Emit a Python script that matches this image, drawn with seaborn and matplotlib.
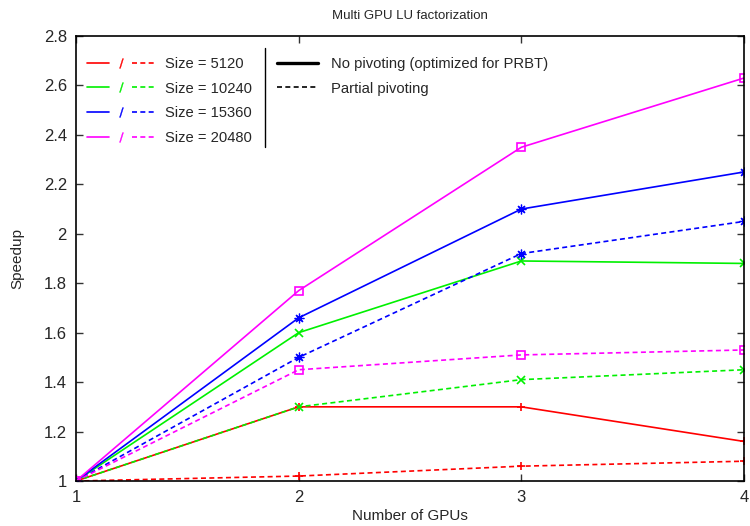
import matplotlib
matplotlib.use('Agg')
import matplotlib.pyplot as plt
from matplotlib.lines import Line2D
from matplotlib.legend_handler import HandlerTuple
import pandas as pd
import seaborn as sns

# data
gpus = [1, 2, 3, 4]
sizes = ['5120', '10240', '15360', '20480']
nopiv_5120 = [1.0, 1.30, 1.30, 1.16]
nopiv_10240 = [1.0, 1.60, 1.89, 1.88]
nopiv_15360 = [1.0, 1.66, 2.10, 2.25]
nopiv_20480 = [1.0, 1.77, 2.35, 2.63]
pp_5120 = [1.0, 1.02, 1.06, 1.08]
pp_10240 = [1.0, 1.30, 1.41, 1.45]
pp_15360 = [1.0, 1.50, 1.92, 2.05]
pp_20480 = [1.0, 1.45, 1.51, 1.53]

colors = ['#ff0000', '#00f000', '#0000ff', '#ff00ff']
markers = ['+', 'x', (8, 2, 0), 's']

sns.set_style('ticks')
plt.rcParams['font.family'] = ['Liberation Sans', 'DejaVu Sans']

nopiv = [nopiv_5120, nopiv_10240, nopiv_15360, nopiv_20480]
pp = [pp_5120, pp_10240, pp_15360, pp_20480]
rows = []
for s, a, b in zip(sizes, nopiv, pp):
    for g, va, vb in zip(gpus, a, b):
        rows.append({'gpus': g, 'size': s, 'method': 'nopiv', 'speedup': va})
        rows.append({'gpus': g, 'size': s, 'method': 'pp', 'speedup': vb})
df = pd.DataFrame(rows)

fig = plt.figure(figsize=(7.5, 5.26), dpi=100)
ax = fig.add_axes([76/750, 1 - 481/526, 668/750, 445/526])

for i, s in enumerate(sizes):
    for method, ls in [('nopiv', '-'), ('pp', (0, (3, 2)))]:
        d = df[(df['size'] == s) & (df['method'] == method)]
        sns.lineplot(data=d, x='gpus', y='speedup', ax=ax, color=colors[i],
                     linestyle=ls, lw=1.2, marker=markers[i],
                     markersize=7 if i == 2 else 6,
                     markerfacecolor='none' if markers[i] == 's' else colors[i],
                     markeredgecolor=colors[i],
                     markeredgewidth=0.9 if i == 2 else 1.2,
                     legend=False)

ax.set_xlim(1, 4)
ax.set_ylim(1, 2.8)
ax.set_xticks(gpus)
yt = [1, 1.2, 1.4, 1.6, 1.8, 2, 2.2, 2.4, 2.6, 2.8]
ax.set_yticks(yt)
ax.set_yticklabels(['%g' % v for v in yt])
ax.tick_params(direction='in', length=5, width=1, labelsize=12, pad=6.5,
               top=True, right=True, color='#333333')
for sp in ax.spines.values():
    sp.set_visible(True)
    sp.set_linewidth(1.2)
    sp.set_color('black')

ax.set_title('Multi GPU LU factorization', fontsize=9.5, pad=12)
ax.set_xlabel('Number of GPUs', fontsize=11, labelpad=3)
ax.set_ylabel('Speedup', fontsize=11, labelpad=14)

# legend: colour per matrix size, solid / dashed pair
size_handles = []
for c in colors:
    solid = Line2D([], [], color=c, lw=1.2)
    slash = Line2D([], [], color=c, lw=0, marker='$/$', markersize=7,
                   markeredgewidth=0.3)
    dash = Line2D([], [], color=c, lw=1.2, linestyle=(0, (3, 2)))
    size_handles.append((solid, slash, dash))
leg1 = ax.legend(size_handles, ['Size = ' + s for s in sizes],
                 handler_map={tuple: HandlerTuple(ndivide=None, pad=0)},
                 loc='upper left', bbox_to_anchor=(0.016, 0.953),
                 frameon=False, borderpad=0, borderaxespad=0,
                 handlelength=4.6, handletextpad=0.7, labelspacing=0.72,
                 fontsize=10.6)
ax.add_artist(leg1)

method_handles = [Line2D([], [], color='black', lw=2.4),
                  Line2D([], [], color='black', lw=1.2, linestyle=(0, (3, 2)))]
ax.legend(method_handles, ['No pivoting (optimized for PRBT)', 'Partial pivoting'],
          loc='upper left', bbox_to_anchor=(0.3004, 0.953),
          frameon=False, borderpad=0, borderaxespad=0,
          handlelength=2.8, handletextpad=0.9, labelspacing=0.72,
          fontsize=10.6)

# separator between the two legend columns
ax.plot([0.283, 0.283], [0.7506, 0.973], transform=ax.transAxes,
        color='black', lw=1)

plt.savefig('out.png', dpi=100)
